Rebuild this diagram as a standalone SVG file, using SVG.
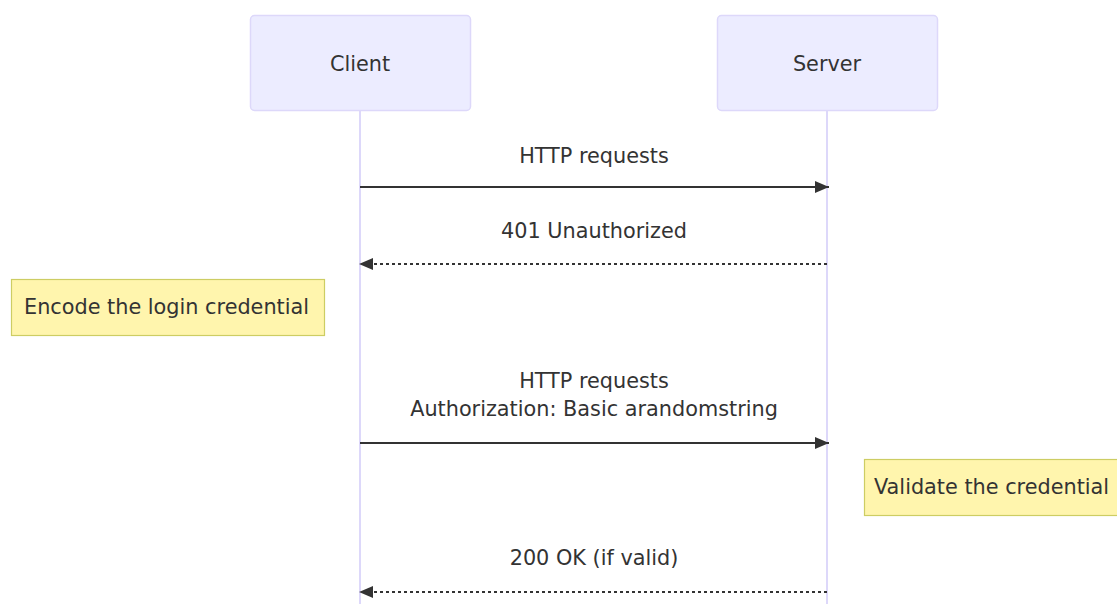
<svg xmlns="http://www.w3.org/2000/svg" width="1117" height="604" viewBox="0 0 1117 604">
  <style>
    .actor rect { fill: #ececff; stroke: #ddd8fa; stroke-width: 1.5; }
    .life { stroke: #ddd8fa; stroke-width: 2; }
    .note rect { fill: #fff5ad; stroke: #cdcd63; stroke-width: 1.2; }
    text { font-family: "DejaVu Sans", Verdana, sans-serif; font-size: 20.8px; fill: #333333; }
    .c { text-anchor: middle; }
    .msg { stroke: #333333; stroke-width: 2; fill: none; }
    .dash { stroke-dasharray: 3 3; }
  </style>
  <defs>
    <marker id="arrowhead" viewBox="0 0 14 12" refX="14" refY="6" markerWidth="14" markerHeight="12" markerUnits="userSpaceOnUse" orient="auto">
      <path d="M0,0 L14,6 L0,12 z" fill="#333333"/>
    </marker>
  </defs>

  <rect width="1117" height="604" fill="#ffffff"/>

  <!-- lifelines -->
  <g id="lifelines">
    <line class="life" x1="360" y1="110" x2="360" y2="604"/>
    <line class="life" x1="827" y1="110" x2="827" y2="604"/>
  </g>

  <g id="client" class="actor">
    <rect x="250.5" y="15.5" width="220" height="95" rx="4"/>
    <text class="c" x="360" y="71">Client</text>
  </g>

  <g id="server" class="actor">
    <rect x="717.5" y="15.5" width="220" height="95" rx="4"/>
    <text class="c" x="827" y="71">Server</text>
  </g>

  <g id="note-encode" class="note">
    <rect x="11.5" y="279.5" width="313" height="56"/>
    <text x="24" y="314">Encode the login credential</text>
  </g>

  <g id="note-validate" class="note">
    <rect x="864.5" y="459.5" width="260" height="56"/>
    <text x="874" y="494">Validate the credential</text>
  </g>

  <!-- messages -->
  <g id="connectors">
    <text class="c" x="594" y="163">HTTP requests</text>
    <line class="msg" x1="360" y1="187" x2="829" y2="187" marker-end="url(#arrowhead)"/>

    <text class="c" x="594" y="238">401 Unauthorized</text>
    <line class="msg dash" x1="827" y1="264" x2="359" y2="264" marker-end="url(#arrowhead)"/>

    <text class="c" x="594" y="388">HTTP requests</text>
    <text class="c" x="594" y="416">Authorization: Basic arandomstring</text>
    <line class="msg" x1="360" y1="443" x2="829" y2="443" marker-end="url(#arrowhead)"/>

    <text class="c" x="594" y="565">200 OK (if valid)</text>
    <line class="msg dash" x1="827" y1="592" x2="359" y2="592" marker-end="url(#arrowhead)"/>
  </g>
</svg>
